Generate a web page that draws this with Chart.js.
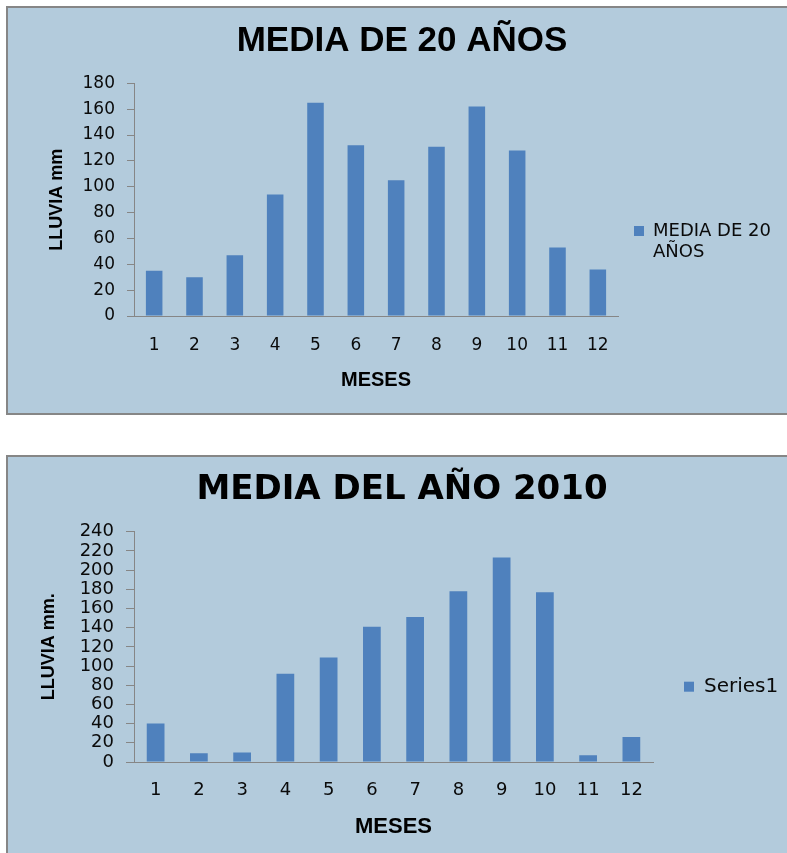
<!DOCTYPE html>
<html><head><meta charset="utf-8">
<script src="https://cdn.jsdelivr.net/npm/chart.js@4.4.1/dist/chart.umd.min.js"></script>
<style>
html,body{margin:0;padding:0;background:#fff;width:787px;height:853px;overflow:hidden;position:relative;}
.panel{position:absolute;left:6px;background:#b3cbdc;border:2px solid #868686;border-right:none;}
#p1{top:6px;width:781px;height:405px;}
#p2{top:455px;width:781px;height:396px;border-bottom:none;}
canvas{display:block;}
</style></head><body>
<div class="panel" id="p1"><canvas id="c1" width="779" height="405"></canvas></div>
<div class="panel" id="p2"><canvas id="c2" width="779" height="396"></canvas></div>
<script>
// ---- data ----
const meses = ['1','2','3','4','5','6','7','8','9','10','11','12'];
const media20Anos = [35, 30, 47, 94, 165, 132, 105, 131, 162, 128, 53, 36];
const media2010 = [40, 9, 10, 92, 109, 141, 151, 178, 213, 177, 7, 26];
const legend1Lines = ['MEDIA DE 20', 'AÑOS'];
const legend2Lines = ['Series1'];
const yTicks1 = {min: 0, max: 180, step: 20};
const yTicks2 = {min: 0, max: 240, step: 20};

const BAR = '#4f81bd';
const AXIS = '#868686';
const TXT = '#0a0a0a';

function makeChart(id, o) {
  return new Chart(document.getElementById(id), {
    type: 'bar',
    data: {
      labels: meses,
      datasets: [{
        label: o.seriesName,
        data: o.values,
        backgroundColor: BAR,
        borderWidth: 0,
        barPercentage: 0.41,
        categoryPercentage: 1
      }]
    },
    options: {
      responsive: false,
      animation: false,
      devicePixelRatio: 1,
      layout: {padding: {left: o.padLeft, right: o.padRight, top: 0, bottom: 0}},
      plugins: {
        tooltip: {enabled: false},
        title: {
          display: true, text: o.title, color: '#000',
          font: o.titleFont,
          padding: {top: o.titlePadTop, bottom: o.titlePadBottom}
        },
        legend: {
          position: 'right',
          maxWidth: o.legendMaxWidth,
          title: {display: true, text: '', font: {size: 1}, padding: {top: 0, bottom: o.legendShift}},
          labels: {
            boxWidth: 10, boxHeight: 10, padding: o.legendPad, color: TXT,
            font: {family: 'DejaVu Sans', size: o.legendSize},
            generateLabels: () => [{
              text: o.legendLines.length > 1 ? o.legendLines : o.legendLines[0],
              fillStyle: BAR, strokeStyle: BAR, lineWidth: 0, hidden: false,
              fontColor: TXT, datasetIndex: 0
            }]
          }
        }
      },
      scales: {
        x: {
          grid: {display: false, drawTicks: false},
          border: {display: true, color: AXIS, width: 1},
          ticks: {padding: o.xTickPad, color: TXT, autoSkip: false, maxRotation: 0,
                  font: {family: 'DejaVu Sans', size: o.tickSize}},
          title: {display: true, text: 'MESES', color: '#000',
                  font: {family: 'Liberation Sans', size: o.xTitleSize, weight: 'bold'},
                  padding: {top: 0, bottom: o.xTitlePad}},
          afterFit: s => { s.height = o.xHeight; }
        },
        y: {
          min: o.y.min, max: o.y.max,
          grid: {display: true, drawOnChartArea: false, drawTicks: true, tickLength: o.tickLen, color: AXIS},
          border: {display: true, color: AXIS, width: 1},
          ticks: {stepSize: o.y.step, padding: 12, color: TXT, autoSkip: false,
                  font: {family: 'DejaVu Sans', size: o.tickSize}},
          title: {display: true, text: o.yTitle, color: '#000',
                  font: {family: 'Liberation Sans', size: 18, weight: 'bold'},
                  padding: {top: o.yTitlePad, bottom: 0}},
          afterFit: s => { s.width = o.yWidth; }
        }
      }
    }
  });
}

makeChart('c1', {
  seriesName: 'MEDIA DE 20 AÑOS', values: media20Anos, legendLines: legend1Lines,
  title: 'MEDIA DE 20 AÑOS', titleFont: {family: 'Liberation Sans', size: 35, weight: 'bold'},
  titlePadTop: 12, titlePadBottom: 21.3,
  padLeft: 18, padRight: 9, legendMaxWidth: 160, legendPad: 16, legendSize: 18, legendShift: 65,
  tickSize: 17, xTickPad: 19, xTitleSize: 20, xTitlePad: 21, xHeight: 97,
  y: yTicks1, tickLen: 7, yTitle: 'LLUVIA mm', yTitlePad: 20, yWidth: 108
});

makeChart('c2', {
  seriesName: 'Series1', values: media2010, legendLines: legend2Lines,
  title: 'MEDIA DEL AÑO 2010', titleFont: {family: 'DejaVu Sans', size: 34, weight: 'bold'},
  titlePadTop: 12.6, titlePadBottom: 21.3,
  padLeft: 14, padRight: 5, legendMaxWidth: 129, legendPad: 31, legendSize: 20, legendShift: 62.2,
  tickSize: 18, xTickPad: 18, xTitleSize: 22, xTitlePad: 13, xHeight: 91,
  y: yTicks2, tickLen: 8, yTitle: 'LLUVIA mm.', yTitlePad: 16, yWidth: 112
});
</script>
</body></html>
